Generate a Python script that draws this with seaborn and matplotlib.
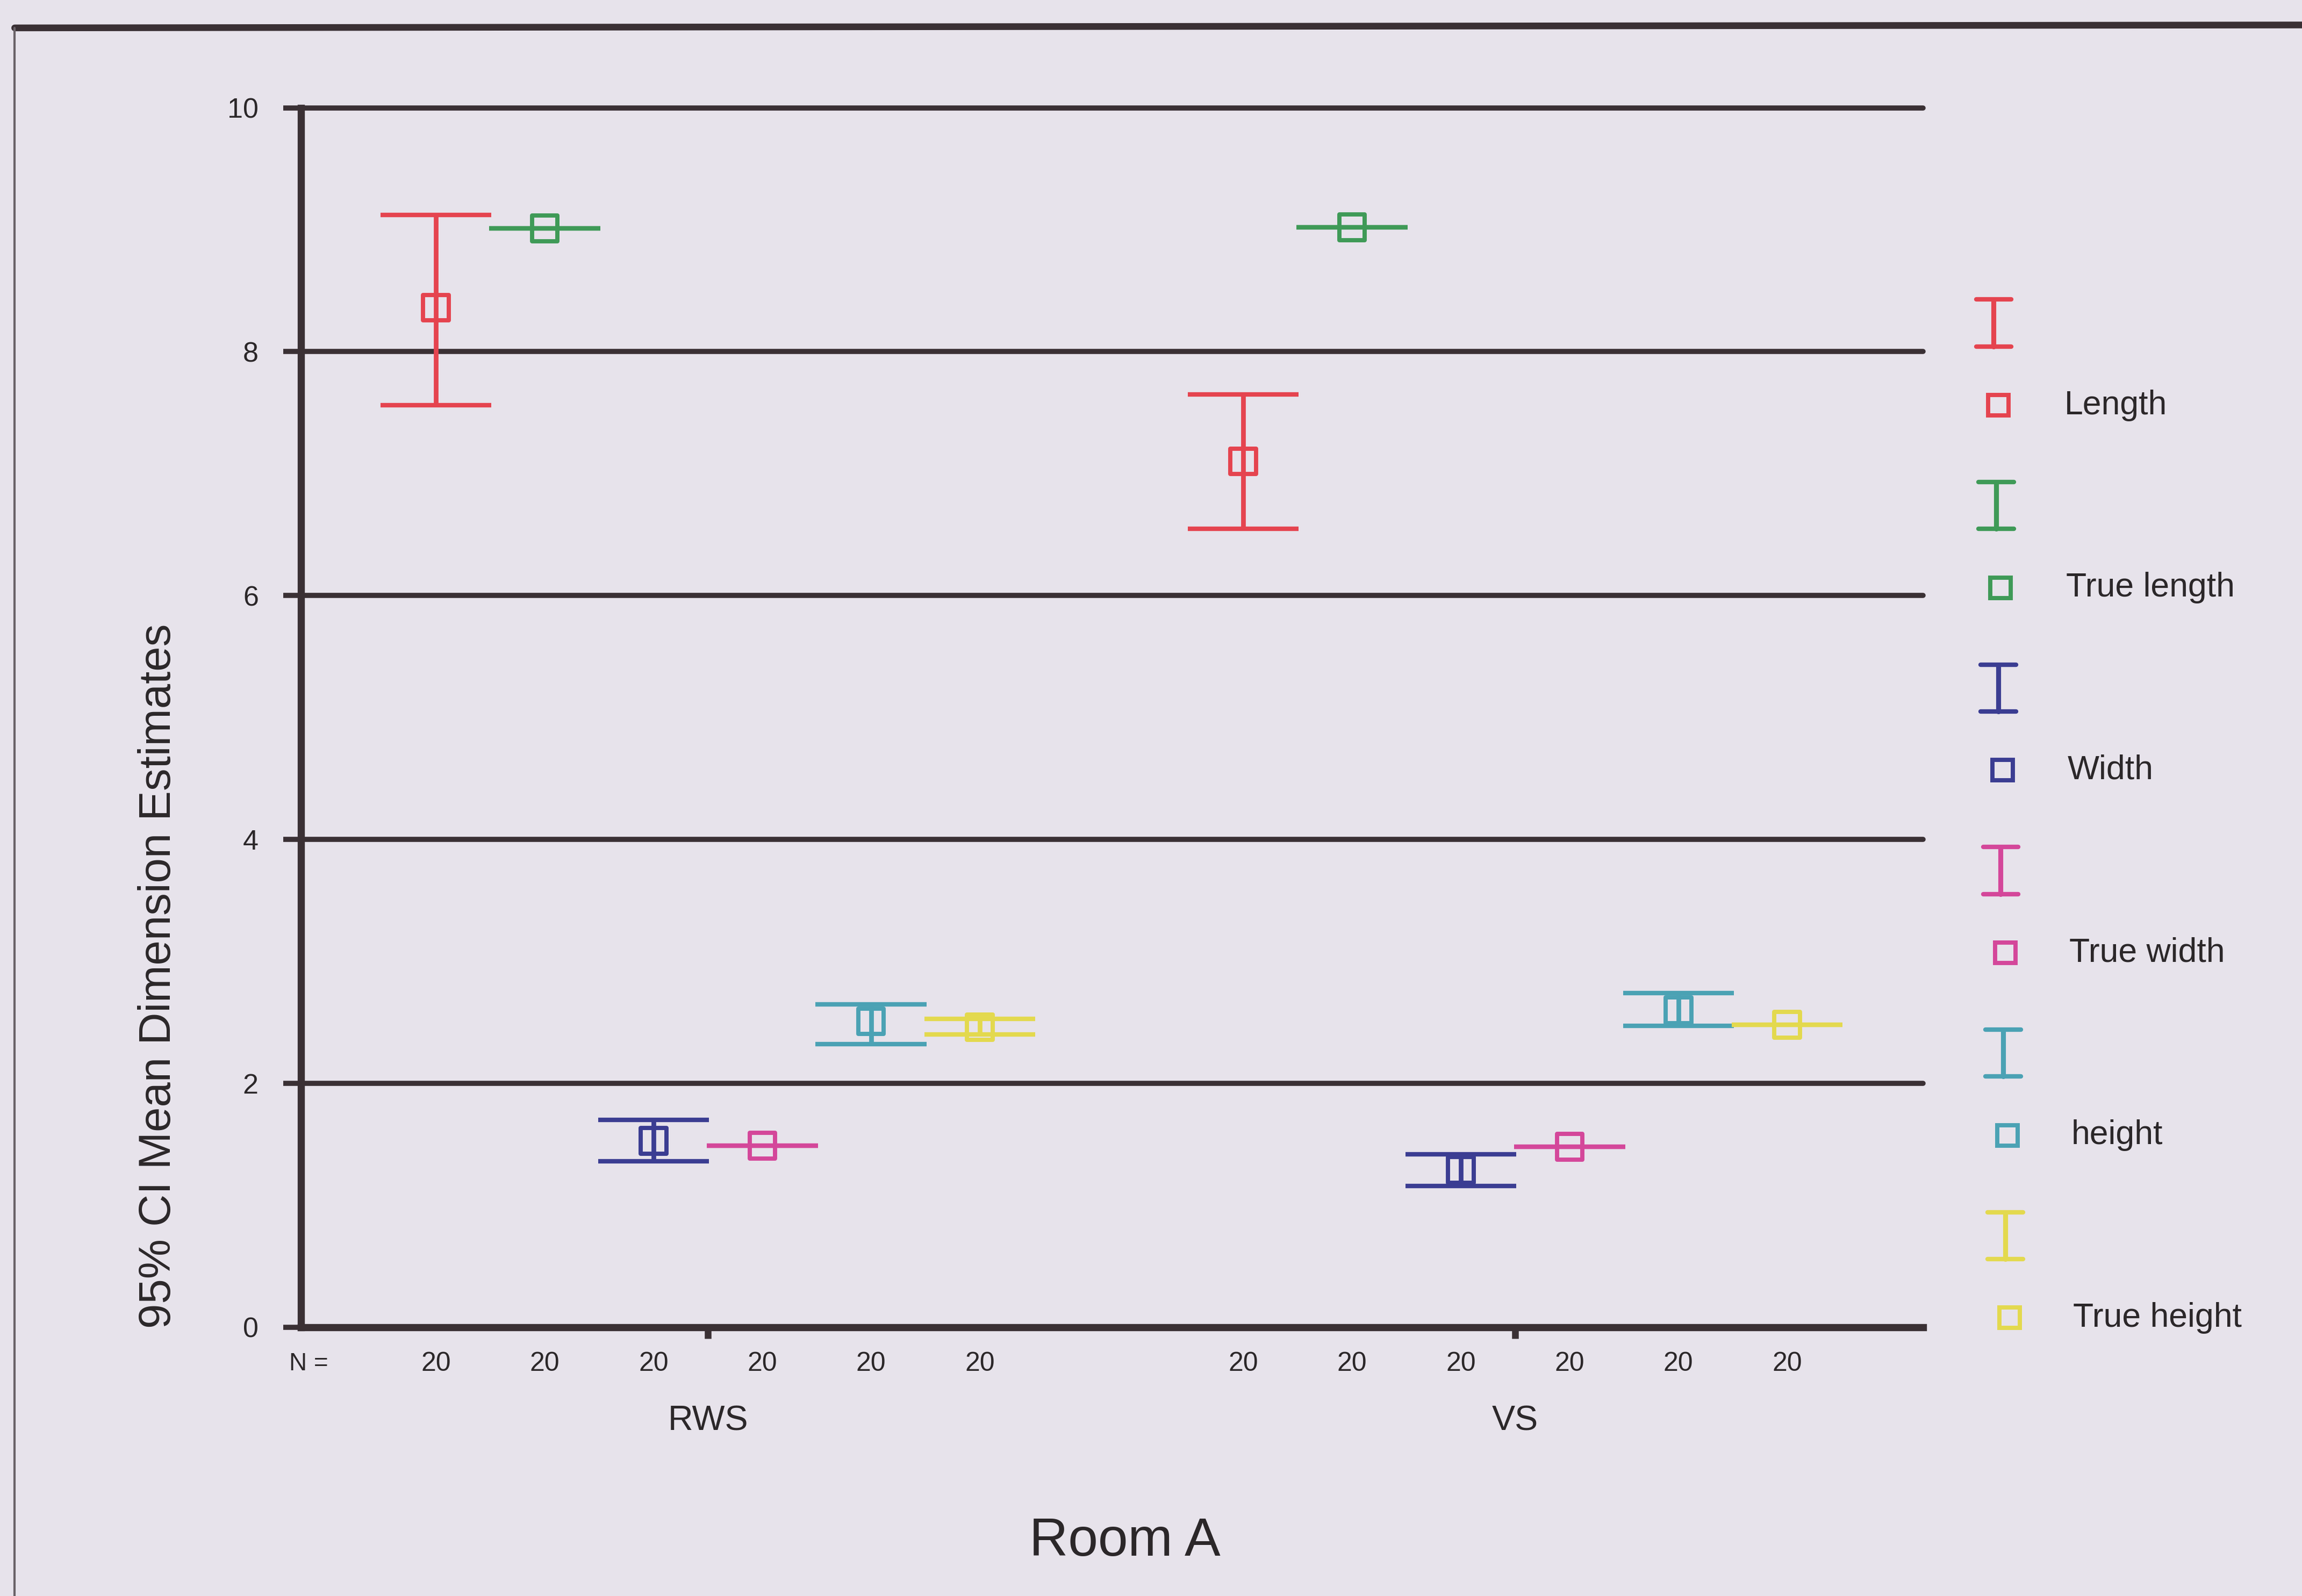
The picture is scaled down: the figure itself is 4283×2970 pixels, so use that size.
import numpy as np
import pandas as pd
import seaborn as sns
import matplotlib.pyplot as plt
from matplotlib.transforms import blended_transform_factory
from matplotlib.lines import Line2D

# ---- data ----
groups = ['RWS', 'VS']
series = ['Length', 'True length', 'Width', 'True width', 'height', 'True height']
n_rws = [20, 20, 20, 20, 20, 20]
n_vs = [20, 20, 20, 20, 20, 20]

mean_rws = [8.36, 9.01, 1.53, 1.49, 2.51, 2.46]
low_rws = [7.56, 9.01, 1.36, 1.49, 2.32, 2.40]
high_rws = [9.12, 9.01, 1.70, 1.49, 2.65, 2.53]

mean_vs = [7.10, 9.02, 1.29, 1.48, 2.60, 2.48]
low_vs = [6.55, 9.02, 1.16, 1.48, 2.47, 2.48]
high_vs = [7.65, 9.02, 1.42, 1.48, 2.74, 2.48]

yticks = [0, 2, 4, 6, 8, 10]

palette = {
    'Length': '#e5444f',
    'True length': '#3f9a57',
    'Width': '#3b3d92',
    'True width': '#d4479a',
    'height': '#4ba2b4',
    'True height': '#e3d94e',
}

BG = '#e7e3eb'
INK = '#3a3034'
TXT = '#2b2729'
GROUP_GAP = 7.42
HALF_CAP = 0.51

sns.set_theme(style='white', rc={'axes.facecolor': BG, 'figure.facecolor': BG})
plt.rcParams['font.family'] = ['Liberation Sans', 'DejaVu Sans']

rows = []
for g, (m, lo, hi, n) in enumerate([(mean_rws, low_rws, high_rws, n_rws),
                                    (mean_vs, low_vs, high_vs, n_vs)]):
    for i, s in enumerate(series):
        rows.append({'group': groups[g], 'series': s, 'x': g * GROUP_GAP + i,
                     'mean': m[i], 'low': lo[i], 'high': hi[i], 'n': n[i]})
df = pd.DataFrame(rows)

fig = plt.figure(figsize=(4283 / 300, 2970 / 300), dpi=300)
ax = fig.add_axes([205 / 1568, 1 - 904 / 1087, 1105 / 1568, (904 - 73.4) / 1087])

# error bars
for _, r in df.iterrows():
    c = palette[r['series']]
    ax.vlines(r['x'], r['low'], r['high'], colors=c, lw=2.1, zorder=3)
    ax.hlines([r['low'], r['high']], r['x'] - HALF_CAP, r['x'] + HALF_CAP,
              colors=c, lw=2.0, zorder=3)

# hollow square means
sns.scatterplot(data=df, x='x', y='mean', hue='series', palette=palette,
                marker='s', s=130, legend=False, ax=ax, zorder=4)
coll = ax.collections[-1]
coll.set_edgecolors(coll.get_facecolors())
coll.set_facecolors('none')
coll.set_linewidths(1.9)

ax.set_ylim(0, 10)
ax.set_xlim(-1.24, 13.67)
ax.set_yticks(yticks)
ax.set_yticklabels([str(t) for t in yticks], fontsize=12.5, color=TXT)
ax.yaxis.grid(True, color=INK, lw=2.3)
for gl in ax.yaxis.get_gridlines():
    gl.set_clip_on(False)
ax.set_axisbelow(True)
ax.tick_params(axis='y', length=8, width=2.3, color=INK, pad=11, left=True)

centers = [g * GROUP_GAP + (len(series) - 1) / 2 for g in range(len(groups))]
ax.set_xticks(centers)
ax.set_xticklabels([])
ax.tick_params(axis='x', length=5, width=3, color=INK, bottom=True, direction='out')

for side in ['top', 'right']:
    ax.spines[side].set_visible(False)
ax.spines['left'].set_color(INK)
ax.spines['left'].set_linewidth(3.2)
ax.spines['bottom'].set_color(INK)
ax.spines['bottom'].set_linewidth(3.2)

ax.set_xlabel('')
ax.set_ylabel('95% CI Mean Dimension Estimates', fontsize=20, color=TXT)
ax.yaxis.set_label_coords(-0.075, 0.288)

trans = blended_transform_factory(ax.transData, ax.transAxes)
ax.text(-1.17, -0.030, 'N =', transform=trans, ha='center', va='center',
        fontsize=11, color=TXT)
for _, r in df.iterrows():
    ax.text(r['x'], -0.030, str(r['n']), transform=trans, ha='center', va='center',
            fontsize=12, color=TXT)
for g, name in enumerate(groups):
    ax.text(centers[g], -0.077, name, transform=trans, ha='center', va='center',
            fontsize=15.5, color=TXT)
ax.text(0.508, -0.176, 'Room A', transform=ax.transAxes, ha='center', va='center',
        fontsize=24, color=TXT)

# legend drawn as its own panel, in scan-pixel units
lax = fig.add_axes([1320 / 1568, 0, 248 / 1568, 1])
lax.set_xlim(1320, 1568)
lax.set_ylim(1087, 0)
lax.axis('off')
step = 124.3
for i, s in enumerate(series):
    c = palette[s]
    yi = 220 + i * step
    xi = 1358 + i * 1.6
    lax.add_line(Line2D([xi, xi], [yi - 16, yi + 16], color=c, lw=2.2))
    lax.add_line(Line2D([xi - 12, xi + 12], [yi - 16, yi - 16], color=c, lw=2.0))
    lax.add_line(Line2D([xi - 12, xi + 12], [yi + 16, yi + 16], color=c, lw=2.0))
    lax.plot([xi + 3], [yi + 56], marker='s', ms=9, mfc='none', mec=c, mew=1.9)
    lax.text(1406 + i * 1.2, yi + 56, s, ha='left', va='center', fontsize=15,
             color=TXT)

# scanned page frame
fig.add_artist(Line2D([10 / 1568, 1], [1 - 19 / 1087, 1 - 17 / 1087],
                      transform=fig.transFigure, color=INK, lw=3))
fig.add_artist(Line2D([10 / 1568, 10 / 1568], [0, 1 - 19 / 1087],
                      transform=fig.transFigure, color='#6a6268', lw=1))

fig.savefig('out.png', dpi=300, facecolor=BG)
